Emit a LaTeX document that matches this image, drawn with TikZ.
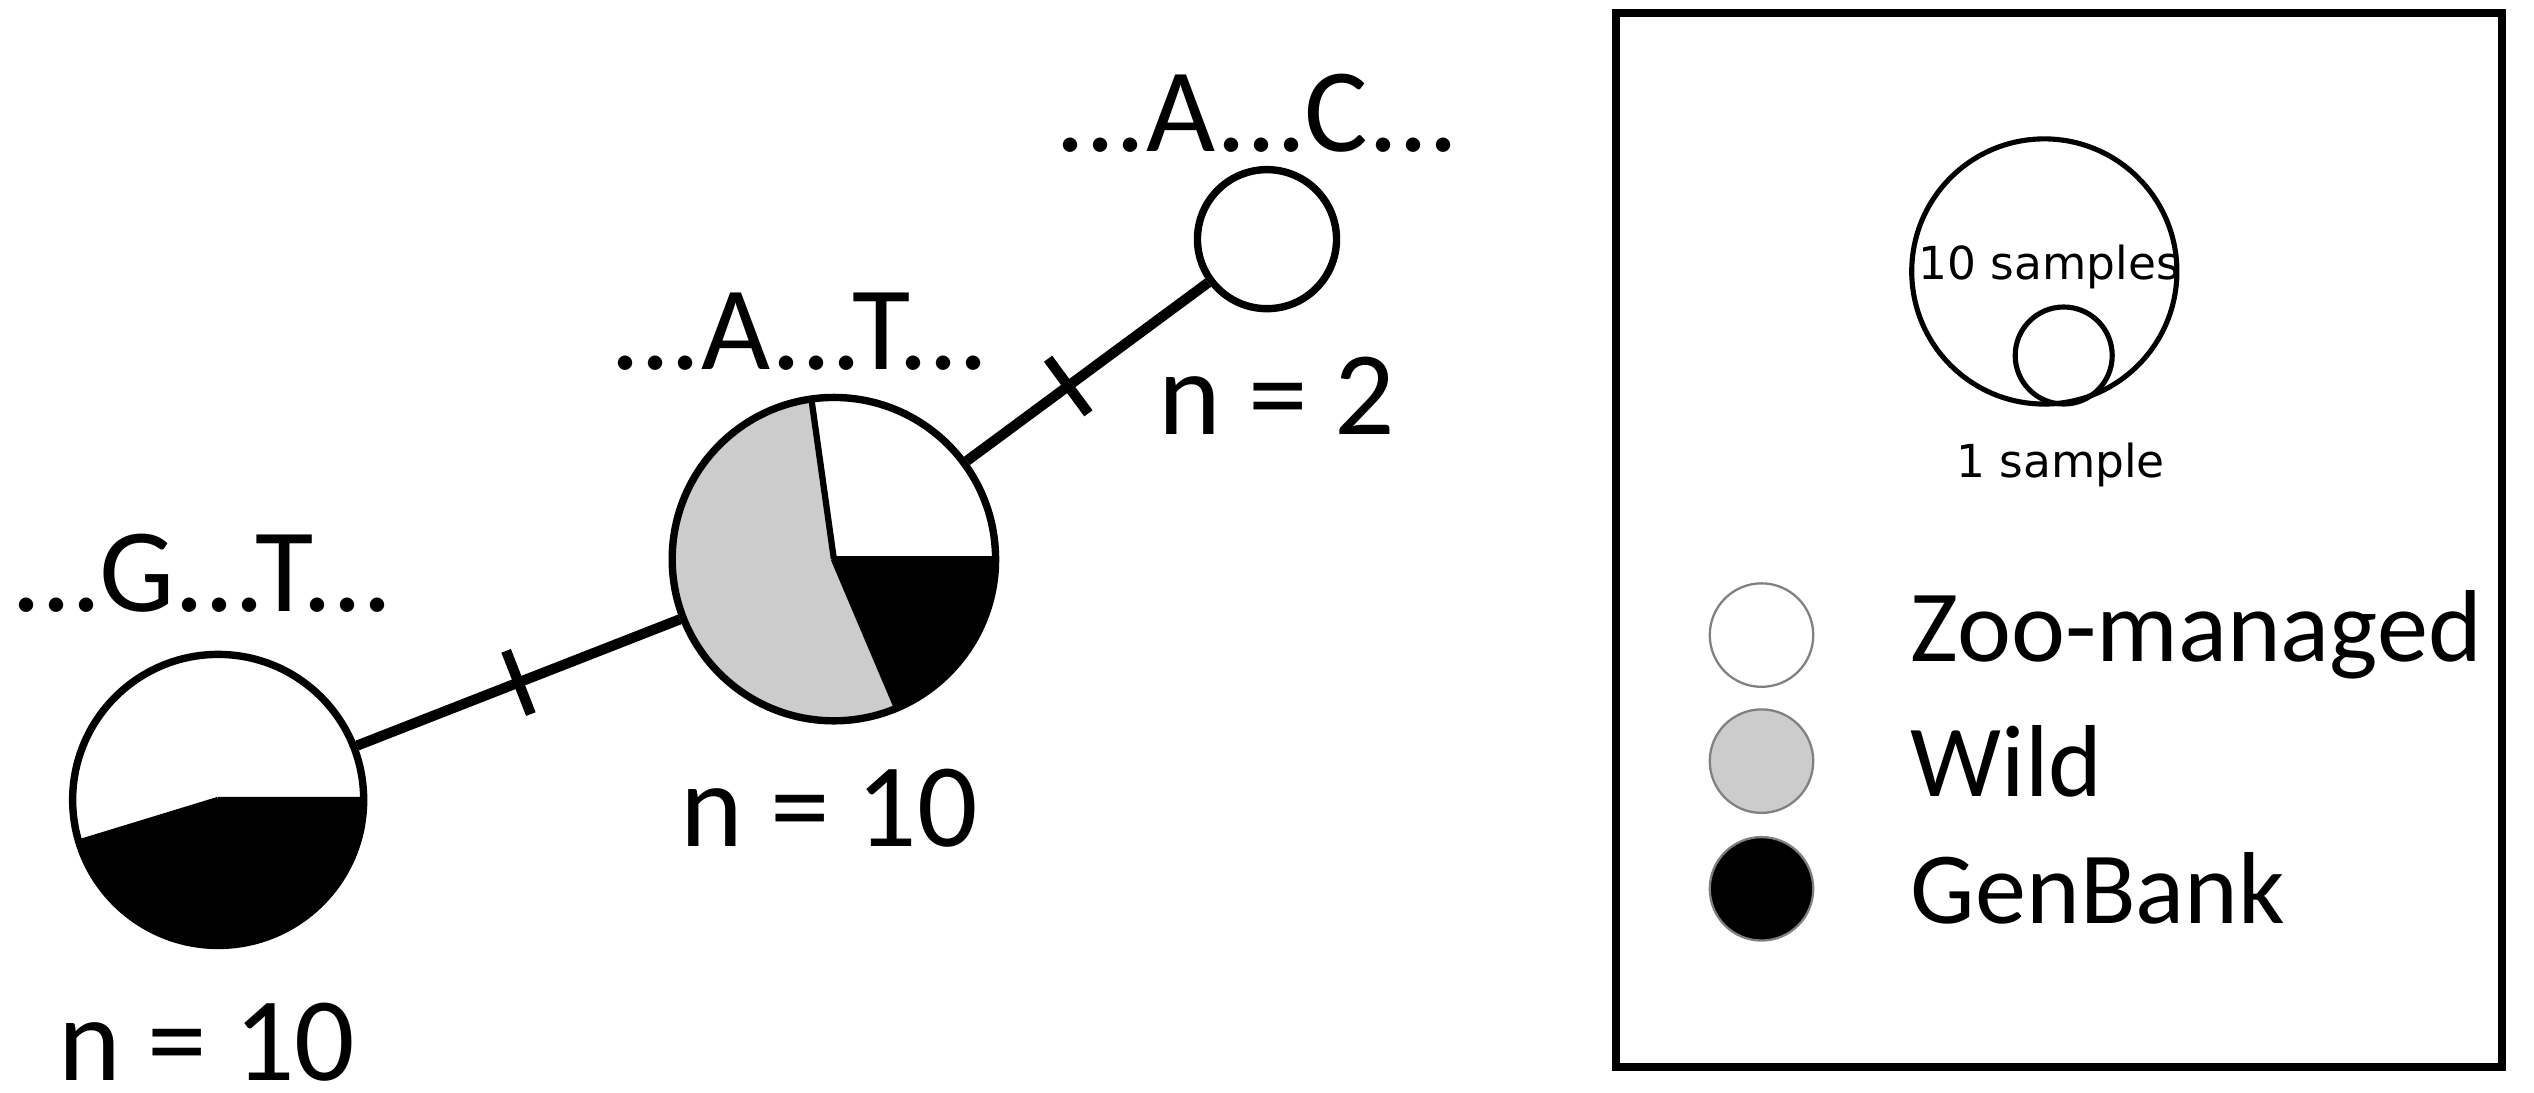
\documentclass[tikz,border=0pt]{standalone}
\usepackage{fontspec}
\setmainfont{Carlito}
\newfontfamily\smallf{DejaVu Sans}
\begin{document}
\begin{tikzpicture}[x=0.01cm,y=0.01cm,
  hap/.style={circle,draw,line width=1.3pt,inner sep=0},
  lbl/.style={font=\fontsize{21}{24}\selectfont},
  leg/.style={font=\fontsize{18}{21}\selectfont,anchor=west},
  edge/.style={line width=1.8pt},
  tick/.style={sloped,draw,line width=1.8pt,inner sep=0,minimum width=0,minimum height=0.42cm}]
\useasboundingbox (0,416) rectangle (1568,1092);
% pies
\fill[gray!40] (516,746) circle (100);
\fill[white] (516,746) -- ++(0:100) arc[start angle=0,end angle=98,radius=100] -- cycle;
\fill[black] (516,746) -- ++(-67:100) arc[start angle=-67,end angle=0,radius=100] -- cycle;
\draw[line width=1.1pt] (516,746) -- ++(98:100) (516,746) -- ++(-67:100) (516,746) -- ++(0:100);
\fill[black] (135,597) -- ++(197:90) arc[start angle=197,end angle=360,radius=90] -- cycle;
\draw[line width=1.1pt] (135,597) -- ++(197:90) (135,597) -- ++(0:90);
\node[hap,minimum size=1.8cm] (left) at (135,597) {};
\node[hap,minimum size=2cm] (mid) at (516,746) {};
\node[hap,minimum size=0.86cm] (small) at (784,944) {};
\draw[edge] (left) -- (mid) node[tick,pos=0.5] {};
\draw[edge] (mid) -- (small) node[tick,pos=0.42] {};
\node[lbl] (t1) at (778,1022) {...A...C...};
\node[lbl] (t2) at (790,847) {n = 2};
\node[lbl] (t3) at (495,887) {...A...T...};
\node[lbl] (t4) at (125,737) {...G...T...};
\node[lbl] (t5) at (513,592) {n = 10};
\node[lbl] (t6) at (128,447) {n = 10};
% legend
\draw[line width=1.4pt] (1000,432) rectangle (1548,1084);
\node[hap,line width=0.9pt,minimum size=1.64cm] (lb) at (1265,924) {};
\node[hap,line width=0.9pt,minimum size=0.6cm] (ls) at (1277,872) {};
\node[font=\smallf\fontsize{8}{10}\selectfont] (s10) at (1268,927) {10 samples};
\node[font=\smallf\fontsize{8}{10}\selectfont] (s1) at (1275,804) {1 sample};
\node[circle,draw=gray,fill=white,minimum size=0.64cm,inner sep=0] (z) at (1090,699) {};
\node[circle,draw=gray,fill=gray!40,minimum size=0.64cm,inner sep=0] (w) at (1090,621) {};
\node[circle,draw=gray,fill=black,minimum size=0.64cm,inner sep=0] (g) at (1090,542) {};
\node[leg] (zl) at (1170,699) {Zoo-managed};
\node[leg] (wl) at (1170,621) {Wild};
\node[leg] (gl) at (1170,542) {GenBank};
\end{tikzpicture}
\end{document}
